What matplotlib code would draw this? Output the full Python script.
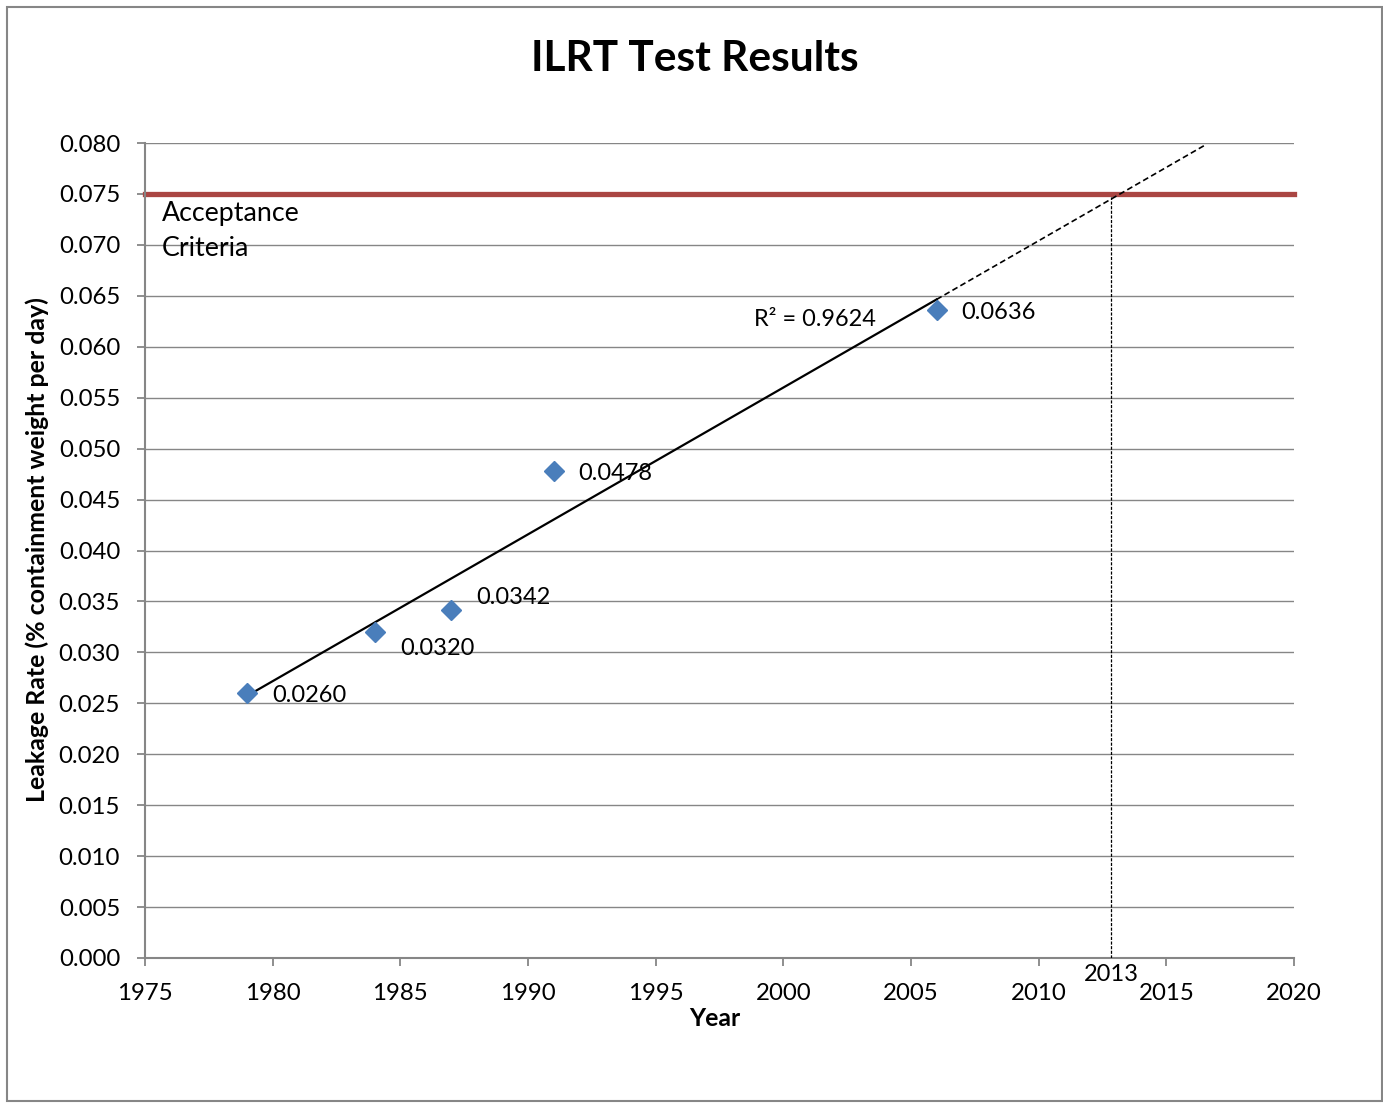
import numpy as np
import matplotlib
matplotlib.use("Agg")
import matplotlib.pyplot as plt
from matplotlib.patches import Rectangle

# ---- data ----
years = [1979, 1984, 1987, 1991, 2006]
leak_rates = [0.0260, 0.0320, 0.0342, 0.0478, 0.0636]
point_labels = ["0.0260", "0.0320", "0.0342", "0.0478", "0.0636"]
acceptance = 0.075
forecast_end = 2016.5
marker_year = 2012.85
marker_label = "2013"
r2_text = "R² = 0.9624"
x_ticks = [1975, 1980, 1985, 1990, 1995, 2000, 2005, 2010, 2015, 2020]
y_ticks = [0.000, 0.005, 0.010, 0.015, 0.020, 0.025, 0.030, 0.035, 0.040,
           0.045, 0.050, 0.055, 0.060, 0.065, 0.070, 0.075, 0.080]

# ---- style ----
plt.rcParams['font.family'] = ['Lato', 'DejaVu Sans']
gray = '#868686'
blue = '#4A7EBB'
red = '#AA4643'

W, H = 1383, 1103
fig = plt.figure(figsize=(W / 100, H / 100), dpi=100)
ax = fig.add_axes([145 / W, 1 - 958 / H, (1294 - 145) / W, (958 - 143) / H])

ax.set_xlim(1975, 2020)
ax.set_ylim(0, 0.080)
ax.set_xticks(x_ticks)
ax.set_yticks(y_ticks)
ax.yaxis.set_major_formatter(matplotlib.ticker.FormatStrFormatter('%.3f'))
ax.tick_params(axis='both', colors=gray, labelcolor='black', labelsize=17.3,
               length=6, width=1.3)
ax.tick_params(axis='y', pad=12)
ax.tick_params(axis='x', pad=12)
for s in ['top', 'right']:
    ax.spines[s].set_visible(False)
for s in ['left', 'bottom']:
    ax.spines[s].set_color(gray)
    ax.spines[s].set_linewidth(1.5)
ax.yaxis.grid(True, color=gray, linewidth=1.0)
ax.set_axisbelow(True)

# trendline (linear regression of the data)
slope, intercept = np.polyfit(years, leak_rates, 1)
xs = np.array([min(years), max(years)])
ax.plot(xs, slope * xs + intercept, color='black', lw=1.6, zorder=3)
xf = np.array([max(years), forecast_end])
ax.plot(xf, slope * xf + intercept, color='black', lw=1.2,
        linestyle=(0, (3.5, 2)), zorder=3)

# acceptance criteria
ax.axhline(acceptance, color=red, lw=3.8, zorder=2, clip_on=False)
ax.text(1975.65, 0.0743, "Acceptance\nCriteria", fontsize=19.3, va='top',
        ha='left', linespacing=1.48)

# marker year
ax.plot([marker_year, marker_year], [0, 0.0747], color='black', lw=0.9,
        linestyle=(0, (2.5, 1.2)), zorder=3)
ax.text(marker_year, -0.00165, marker_label, fontsize=17, ha='center',
        va='center')

# data points
ax.plot(years, leak_rates, linestyle='none', marker='D', markersize=10.5,
        color=blue, zorder=4)
offsets = [(18, -2), (18, -12), (18, 9), (18, -2), (18, -2)]
for x, y, t, off in zip(years, leak_rates, point_labels, offsets):
    ax.annotate(t, (x, y), xytext=off, textcoords='offset points',
                fontsize=17, ha='left', va='center')

ax.text(2003.63, 0.0627, r2_text, fontsize=16.9, ha='right', va='center')

fig.text(695 / W, 1 - 59 / H, "ILRT Test Results", fontsize=30.5,
         fontweight='bold', ha='center', va='center')
ax.set_xlabel("Year", fontsize=17.8, fontweight='bold')
ax.xaxis.set_label_coords(0.496, -0.0748)
ax.xaxis.label.set_va('center')
ax.set_ylabel("Leakage Rate (% containment weight per day)", fontsize=17.9,
              fontweight='bold')
ax.yaxis.set_label_coords(-0.094, 0.5006)
ax.yaxis.label.set_va('center')

fig.patches.append(Rectangle((7 / W, 2 / H), (1382 - 7) / W, (1101 - 7) / H,
                             transform=fig.transFigure, fill=False,
                             edgecolor=gray, linewidth=1.5))

fig.savefig("out.png", dpi=100)
